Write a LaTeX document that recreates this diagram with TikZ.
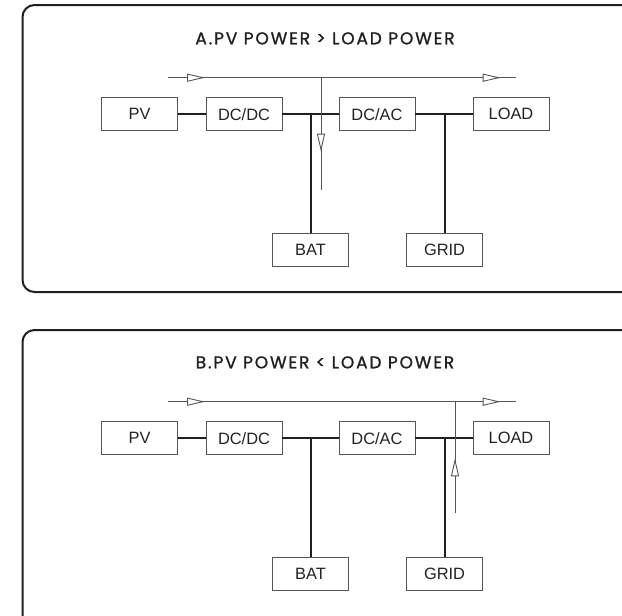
\documentclass[tikz,border=0pt]{standalone}
\usepackage{fontspec}
\setmainfont{Liberation Sans}
\newfontfamily\titlefont[LetterSpace=11, FakeBold=1.2]{Poppins}
\usepackage{tikz}
\usetikzlibrary{arrows.meta, decorations.markings}
\usepackage{xcolor}
\definecolor{framec}{HTML}{231F20}
\definecolor{boxc}{HTML}{555555}
\definecolor{textc}{HTML}{222222}

\tikzset{
    panel/.style={draw=framec, line width=2pt, rounded corners=12pt},
    unit/.style={draw=boxc, line width=0.9pt, minimum width=76pt, minimum height=33pt,
        inner sep=0pt, text=textc, font=\fontsize{16.4}{17}\selectfont},
    heading/.style={anchor=base, text=framec, font=\titlefont\fontsize{17}{18}\selectfont},
    bus/.style={draw=framec, line width=2pt},
    flow/.style={draw=boxc, line width=0.9pt}
}

\begin{document}
\begin{tikzpicture}[x=1pt, y=-1pt]
    \clip (0,0) rectangle (622,616);
    % Fall A
    \draw[panel] (22.5,5) rectangle (640,292);
    \node[heading] (titleA) at (325,44.3) {A.PV POWER > LOAD POWER};
    \node[unit] (pvA) at (139.5,114.3) {PV};
    \node[unit] (dcdcA) at (244,114.3) {DC/DC};
    \node[unit] (dcacA) at (377,114.3) {DC/AC};
    \node[unit] (loadA) at (511,114.3) {LOAD};
    \node[unit] (batA) at (310.5,250.3) {BAT};
    \node[unit] (gridA) at (444.5,250.3) {GRID};
    \draw[bus] (pvA) -- (dcdcA);
    \draw[bus] (dcdcA) -- (dcacA);
    \draw[bus] (dcacA) -- (loadA);
    \draw[bus] (batA.north) -- (batA.north |- dcdcA.east);
    \draw[bus] (gridA.north) -- (gridA.north |- dcacA.east);
    % Fluxo A
    \coordinate (inA) at (168,77.7);
    \coordinate (outA) at (516,77.7);
    \coordinate (downA) at (321,190);
    \draw[flow, postaction={decorate}, decoration={markings,
        mark=at position 37pt with {\arrow{Triangle[length=18pt, width=8pt, fill=white]}},
        mark=at position 332.7pt with {\arrow{Triangle[length=18pt, width=8pt, fill=white]}}}]
        (inA) -- (outA);
    \draw[flow, postaction={decorate}, decoration={markings,
        mark=at position 74pt with {\arrow{Triangle[length=18pt, width=8pt, fill=white]}}}]
        (downA |- inA) -- (downA);

    % Fall B
    \draw[panel] (22.5,330) rectangle (640,640);
    \node[heading] (titleB) at (325,368.3) {B.PV POWER < LOAD POWER};
    \node[unit] (pvB) at (139.5,438.3) {PV};
    \node[unit] (dcdcB) at (244,438.3) {DC/DC};
    \node[unit] (dcacB) at (377,438.3) {DC/AC};
    \node[unit] (loadB) at (511,438.3) {LOAD};
    \node[unit] (batB) at (310.5,574.3) {BAT};
    \node[unit] (gridB) at (444.5,574.3) {GRID};
    \draw[bus] (pvB) -- (dcdcB);
    \draw[bus] (dcdcB) -- (dcacB);
    \draw[bus] (dcacB) -- (loadB);
    \draw[bus] (batB.north) -- (batB.north |- dcdcB.east);
    \draw[bus] (gridB.north) -- (gridB.north |- dcacB.east);
    % Fluxo B
    \coordinate (inB) at (168,401.7);
    \coordinate (outB) at (516,401.7);
    \coordinate (upB) at (455,513.3);
    \draw[flow, postaction={decorate}, decoration={markings,
        mark=at position 37pt with {\arrow{Triangle[length=18pt, width=8pt, fill=white]}},
        mark=at position 332.7pt with {\arrow{Triangle[length=18pt, width=8pt, fill=white]}}}]
        (inB) -- (outB);
    \draw[flow, postaction={decorate}, decoration={markings,
        mark=at position 55pt with {\arrow{Triangle[length=18pt, width=8pt, fill=white]}}}]
        (upB) -- (upB |- inB);
\end{tikzpicture}
\end{document}
